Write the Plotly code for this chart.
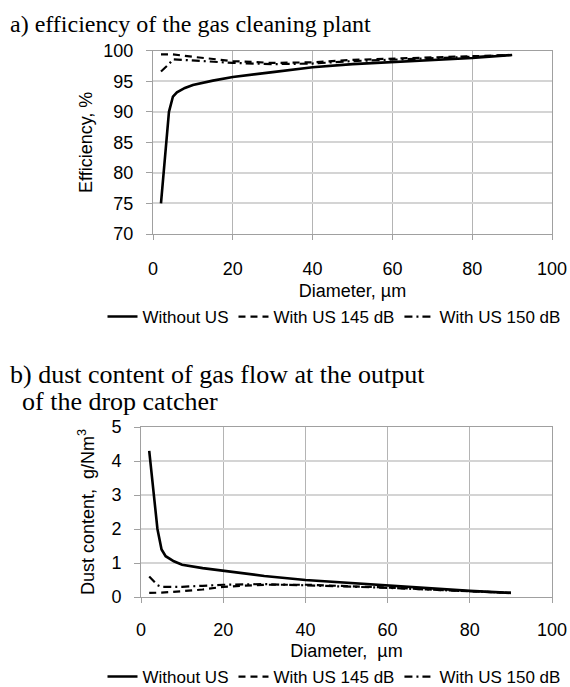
import plotly.graph_objects as go

# ---- data (a) efficiency ----
x_a_without = [2, 3, 4, 5, 6, 8, 10, 15, 20, 30, 40, 50, 60, 70, 80, 90]
eff_without = [75.0, 83.0, 90.0, 92.5, 93.2, 93.9, 94.4, 95.1, 95.7, 96.5, 97.3, 97.8, 98.1, 98.5, 98.8, 99.3]
x_a_145 = [2, 5, 10, 15, 20, 30, 40, 50, 60, 70, 80, 90]
eff_145 = [99.4, 99.4, 99.0, 98.7, 98.3, 98.0, 98.1, 98.5, 98.7, 98.9, 99.1, 99.3]
x_a_150 = [2, 4, 5, 10, 15, 20, 30, 40, 50, 60, 70, 80, 90]
eff_150 = [96.6, 97.8, 98.6, 98.4, 98.2, 98.0, 97.8, 97.9, 98.3, 98.5, 98.8, 99.0, 99.3]

# ---- data (b) dust content ----
x_b_without = [2, 3, 4, 5, 6, 8, 10, 15, 20, 30, 40, 50, 60, 70, 80, 90]
dust_without = [4.3, 3.1, 2.0, 1.4, 1.2, 1.05, 0.95, 0.85, 0.77, 0.62, 0.5, 0.42, 0.33, 0.25, 0.18, 0.12]
x_b_145 = [2, 5, 10, 15, 20, 30, 40, 50, 60, 70, 80, 90]
dust_145 = [0.12, 0.13, 0.17, 0.22, 0.3, 0.36, 0.36, 0.33, 0.28, 0.22, 0.17, 0.12]
x_b_150 = [2, 4, 5, 10, 15, 20, 30, 40, 50, 60, 70, 80, 90]
dust_150 = [0.6, 0.35, 0.3, 0.3, 0.33, 0.36, 0.38, 0.35, 0.31, 0.27, 0.22, 0.17, 0.12]

names = ["Without US", "With US 145 dB", "With US 150 dB"]
dashes = ["solid", "7px,5px", "8px,4px,2px,4px"]
widths = [2.6, 2.2, 2.2]

W, H = 570, 687
def px_x(p):
    return p / W
def px_y(p):
    return 1 - p / H

fig = go.Figure()
for xs, ys, n, d, w in zip([x_a_without, x_a_145, x_a_150], [eff_without, eff_145, eff_150], names, dashes, widths):
    fig.add_trace(go.Scatter(x=xs, y=ys, name=n, mode="lines", line=dict(color="black", dash=d, width=w),
                             xaxis="x", yaxis="y", legend="legend"))
for xs, ys, n, d, w in zip([x_b_without, x_b_145, x_b_150], [dust_without, dust_145, dust_150], names, dashes, widths):
    fig.add_trace(go.Scatter(x=xs, y=ys, name=n, mode="lines", line=dict(color="black", dash=d, width=w),
                             xaxis="x2", yaxis="y2", legend="legend2"))

tickfont = dict(family="Liberation Sans, Arial", size=18, color="black")
titlefont = dict(family="Liberation Sans, Arial", size=18, color="black")
common_x = dict(range=[0, 100], dtick=20, tick0=0, showgrid=True, gridcolor="#b4b4b4", gridwidth=1,
                showline=True, linecolor="#a0a0a0", linewidth=1, mirror=True, ticks="outside",
                ticklen=5, tickcolor="#a0a0a0", tickfont=tickfont, zeroline=False, automargin=False)
common_y = dict(showgrid=True, gridcolor="#d4d4d4", gridwidth=1.5, showline=True, linecolor="#a0a0a0",
                linewidth=1, mirror=True, ticks="outside", ticklen=6, tickcolor="#a0a0a0",
                tickfont=tickfont, zeroline=False, automargin=False, ticklabelstandoff=9)

legend_font = dict(family="Liberation Sans, Arial", size=17, color="black")

fig.update_layout(
    width=W, height=H,
    margin=dict(l=0, r=0, t=0, b=0, autoexpand=False),
    paper_bgcolor="white", plot_bgcolor="white",
    xaxis=dict(common_x, domain=[px_x(153), px_x(552)], anchor="y", ticklabelstandoff=13,
               title=dict(text="Diameter, µm", font=titlefont, standoff=6)),
    yaxis=dict(common_y, domain=[px_y(234), px_y(50.7)], anchor="x", range=[70, 100], dtick=5,
               title=dict(text="Efficiency, %", font=titlefont, standoff=6)),
    xaxis2=dict(common_x, domain=[px_x(141), px_x(552)], anchor="y2", ticklabelstandoff=11,
                title=dict(text="Diameter,  µm", font=titlefont, standoff=5)),
    yaxis2=dict(common_y, domain=[px_y(597), px_y(427)], anchor="x2", range=[0, 5], dtick=1,
                title=dict(text="Dust content,  g/Nm<sup>3</sup>", font=titlefont, standoff=12)),
    legend=dict(orientation="h", x=px_x(334), xanchor="center", y=px_y(317), yanchor="middle",
                font=legend_font, itemwidth=30, bgcolor="rgba(0,0,0,0)", tracegroupgap=0),
    legend2=dict(orientation="h", x=px_x(334), xanchor="center", y=px_y(677), yanchor="middle",
                 font=legend_font, itemwidth=30, bgcolor="rgba(0,0,0,0)", tracegroupgap=0),
    showlegend=True,
)

fig.add_annotation(text="a) efficiency of the gas cleaning plant", xref="paper", yref="paper",
                   x=px_x(8), y=px_y(24), xanchor="left", yanchor="middle", showarrow=False,
                   font=dict(family="Liberation Serif, Times New Roman, serif", size=24, color="black"))
fig.add_annotation(text="b) dust content of gas flow at the output", xref="paper", yref="paper",
                   x=px_x(8), y=px_y(374), xanchor="left", yanchor="middle", showarrow=False,
                   font=dict(family="Liberation Serif, Times New Roman, serif", size=26, color="black"))
fig.add_annotation(text="of the drop catcher", xref="paper", yref="paper",
                   x=px_x(20), y=px_y(401), xanchor="left", yanchor="middle", showarrow=False,
                   font=dict(family="Liberation Serif, Times New Roman, serif", size=26, color="black"))

fig.write_html("out.html", config={"displayModeBar": False},
               post_script="document.body.style.margin='0';document.body.style.overflow='hidden';")
